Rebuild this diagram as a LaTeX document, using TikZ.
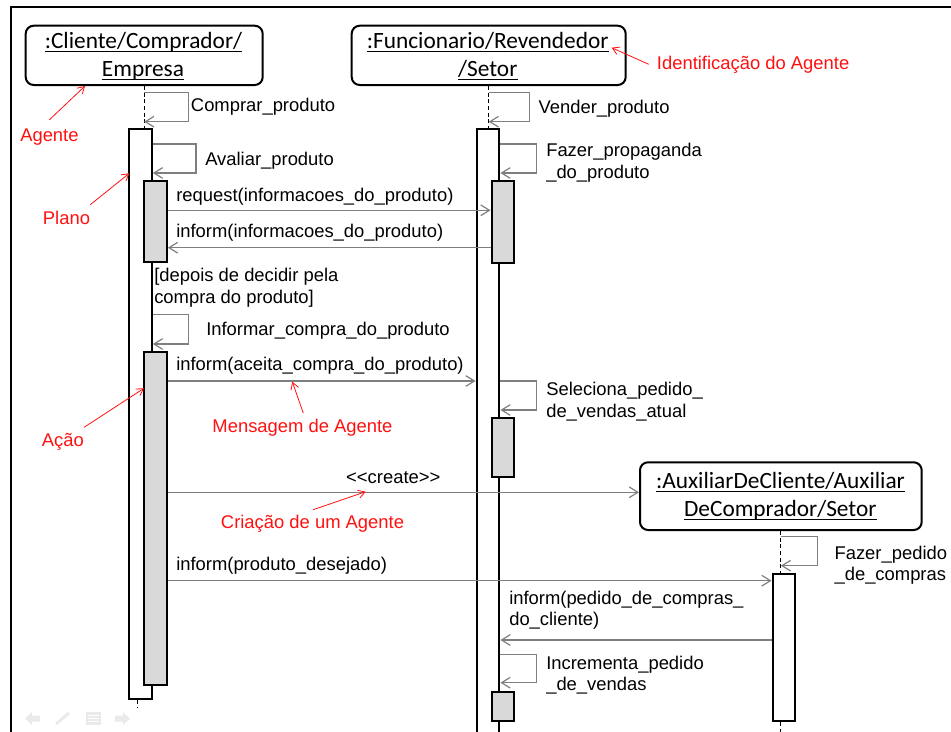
\documentclass[tikz,border=0pt]{standalone}
\usepackage{fontspec}
\setmainfont{Liberation Sans}[Ligatures=TeXOff]
\newfontfamily\boxfont{Carlito}[Ligatures=TeXOff]
\usetikzlibrary{arrows.meta,fit,calc}

\definecolor{msggray}{HTML}{7F7F7F}
\definecolor{barfill}{HTML}{D9D9D9}
\definecolor{notered}{HTML}{FF1010}
\definecolor{navgray}{HTML}{EAEAEA}

\tikzset{
  lbl/.style={inner sep=0pt, anchor=base west, font=\fontsize{13.8}{16}\selectfont},
  note/.style={lbl, text=notered},
  agentbox/.style={draw=black, line width=1.5pt, rounded corners=6pt, inner sep=0pt, fill=white},
  boxtxt/.style={inner sep=0pt, anchor=base, font=\boxfont\fontsize{17.5}{21}\selectfont},
  uline/.style={line width=0.9pt},
  life/.style={draw=black, line width=0.6pt, dash pattern=on 3pt off 2pt},
  plainbar/.style={draw=black, fill=white, line width=1.7pt, inner sep=0pt},
  graybar/.style={plainbar, fill=barfill},
  msg/.style={draw=msggray, line width=0.9pt, -{Straight Barb[length=6.5pt,width=8pt]}},
  pointer/.style={draw=notered, line width=0.6pt, -{Straight Barb[length=5pt,width=6pt]}},
}

\begin{document}
\begin{tikzpicture}[x=0.75pt,y=-0.75pt]
\useasboundingbox (0,0) rectangle (951,732);
\clip (0,0) rectangle (951,732);

% outer frame
\draw[line width=1.3pt] (11,740) -- (11,7) -- (960,7);

% slide navigation icons
\fill[navgray] (25,718.5) -- (32,712) -- (32,715.5) -- (40,715.5) -- (40,721.5) -- (32,721.5) -- (32,725) -- cycle;
\draw[navgray, line width=2.2pt] (56,724) -- (69,713);
\fill[navgray] (86,712) rectangle (101,725);
\draw[white, line width=0.6pt] (88,715.5) -- (99,715.5) (88,718.5) -- (99,718.5) (88,721.5) -- (99,721.5);
\fill[navgray] (130,718.5) -- (123,712) -- (123,715.5) -- (115,715.5) -- (115,721.5) -- (123,721.5) -- (123,725) -- cycle;

% agent boxes
\node[agentbox, fit={(25.7,25.7) (262.7,85)}] (c1) {};
\node[agentbox, fit={(351.7,25.7) (625.7,85)}] (c2) {};
\node[agentbox, fit={(640,462.3) (921.7,530)}] (c3) {};

\node[boxtxt] (c1a) at (143.5,48.3) {:Cliente/Comprador/};
\node[boxtxt] (c1b) at (143,76.7) {Empresa};
\node[boxtxt] (c2a) at (487.7,48.3) {:Funcionario/Revendedor};
\node[boxtxt] (c2b) at (487.8,76.7) {/Setor};
\node[boxtxt] (c3a) at (780.5,488.3) {:AuxiliarDeCliente/Auxiliar};
\node[boxtxt] (c3b) at (780.3,516.7) {DeComprador/Setor};
\foreach \t in {c1a,c1b,c2a,c2b,c3a,c3b}
  \draw[uline] ($(\t.base west)+(0,3)$) -- ($(\t.base east)+(0,3)$);

% activation bars
\node[plainbar, fit={(129.3,129.3) (151.7,699.3)}] (b1) {};
\node[plainbar, fit={(476.7,129.3) (499.3,760)}] (b2) {};
\node[plainbar, fit={(772.7,574) (795,720.7)}] (b3) {};

% lifelines
\draw[life] (c1.south) -- (c1.south |- b1.north);
\draw[life] (c2.south) -- (c2.south |- b2.north);
\draw[life] (c3.south) -- (c3.south |- b3.north);
\draw[life] (b3.south -| c3.south) -- ++(0,20);
\draw[life] ($(b1.south)+(-3,0)$) -- ++(0,7);

% nested (action) bars
\node[graybar, fit={(144.3,181) (166.7,261.7)}] (g1a) {};
\node[graybar, fit={(144.3,351.7) (166.7,685)}] (g1b) {};
\node[graybar, fit={(491.7,181) (514.3,262.7)}] (g2a) {};
\node[graybar, fit={(491.7,418.3) (514.3,477.3)}] (g2b) {};
\node[graybar, fit={(491.7,691.7) (514.3,720.7)}] (g2c) {};

% message levels
\coordinate (m1) at (0,210.3);
\coordinate (m2) at (0,247.7);
\coordinate (m3) at (0,381);
\coordinate (m4) at (0,492.3);
\coordinate (m5) at (0,580.7);
\coordinate (m6) at (0,640);

% messages between agents
\draw[msg] (g1a.east |- m1) -- (g2a.west |- m1);
\draw[msg] (g2a.west |- m2) -- (g1a.east |- m2);
\draw[msg] (g1b.east |- m3) -- (b2.west |- m3);
\draw[msg] (g1b.east |- m4) -- (c3.west |- m4);
\draw[msg] (g1b.east |- m5) -- (b3.west |- m5);
\draw[msg] (b3.west |- m6) -- (b2.east |- m6);

% self messages (plans and actions)
\coordinate (l1t) at (188.7,92.3);  \coordinate (l1b) at (188.7,121.7);
\coordinate (l2t) at (196,144);     \coordinate (l2b) at (196,173);
\coordinate (l3t) at (188.7,314.3); \coordinate (l3b) at (188.7,344);
\coordinate (l4t) at (529.3,92.3);  \coordinate (l4b) at (529.3,121.7);
\coordinate (l5t) at (536.7,144);   \coordinate (l5b) at (536.7,173);
\coordinate (l6t) at (536.7,381);   \coordinate (l6b) at (536.7,410);
\coordinate (l7t) at (536.7,654.3); \coordinate (l7b) at (536.7,682.7);
\coordinate (l8t) at (817.3,536.7); \coordinate (l8b) at (817.3,565.7);

\draw[msg] (c1.south |- l1t) -- (l1t) -- (l1b) -- (c1.south |- l1b);
\draw[msg] (b1.east |- l2t) -- (l2t) -- (l2b) -- (b1.east |- l2b);
\draw[msg] (b1.east |- l3t) -- (l3t) -- (l3b) -- (b1.east |- l3b);
\draw[msg] (c2.south |- l4t) -- (l4t) -- (l4b) -- (c2.south |- l4b);
\draw[msg] (b2.east |- l5t) -- (l5t) -- (l5b) -- (b2.east |- l5b);
\draw[msg] (b2.east |- l6t) -- (l6t) -- (l6b) -- (b2.east |- l6b);
\draw[msg] (b2.east |- l7t) -- (l7t) -- (l7b) -- (b2.east |- l7b);
\draw[msg] (c3.south |- l8t) -- (l8t) -- (l8b) -- (c3.south |- l8b);

% labels
\node[lbl] (t1)  at (190.7,111)   {Comprar\_produto};
\node[lbl] (t2)  at (205,165.7)   {Avaliar\_produto};
\node[lbl] (t3)  at (176,201)     {request(informacoes\_do\_produto)};
\node[lbl] (t4)  at (176,237.7)   {inform(informacoes\_do\_produto)};
\node[lbl] (t5a) at (154,281.7)   {[depois de decidir pela};
\node[lbl] (t5b) at (154,303.3)   {compra do produto]};
\node[lbl] (t6)  at (206,335.7)   {Informar\_compra\_do\_produto};
\node[lbl] (t7)  at (176,370)     {inform(aceita\_compra\_do\_produto)};
\node[lbl, anchor=base] (t8) at (393.3,483.3) {<<create>>};
\node[lbl] (t9)  at (176,570.7)   {inform(produto\_desejado)};
\node[lbl] (t10) at (538.3,113.3) {Vender\_produto};
\node[lbl] (t11a) at (546,156.7)  {Fazer\_propaganda};
\node[lbl] (t11b) at (546,178.3)  {\_do\_produto};
\node[lbl] (t12a) at (546,395.7)  {Seleciona\_pedido\_};
\node[lbl] (t12b) at (546,417.3)  {de\_vendas\_atual};
\node[lbl] (t13a) at (834.3,559)  {Fazer\_pedido};
\node[lbl] (t13b) at (834.3,580)  {\_de\_compras};
\node[lbl] (t14a) at (509,604)    {inform(pedido\_de\_compras\_};
\node[lbl] (t14b) at (509,625.7)  {do\_cliente)};
\node[lbl] (t15a) at (546,669)    {Incrementa\_pedido};
\node[lbl] (t15b) at (546,690.7)  {\_de\_vendas};

% annotations
\node[note] (nId)  at (656.7,69)   {Identificação do Agente};
\node[note] (nAg)  at (20,141.7)   {Agente};
\node[note] (nPl)  at (42.7,224.3) {Plano};
\node[note] (nAc)  at (41.7,446.7) {Ação};
\node[note, anchor=base] (nMs) at (302.5,432.7) {Mensagem de Agente};
\node[note] (nCr)  at (220.7,528.3) {Criação de um Agente};

\coordinate (pId) at (611.7,47.7);
\coordinate (pAg) at (85,86);
\coordinate (pPl) at (129.3,173.3);
\coordinate (pAc) at (144,388.3);
\coordinate (pMs) at (292.3,381.7);
\coordinate (pCr) at (365.7,491.7);

\draw[pointer] ($(nId.west)+(-8,0)$) -- (pId);
\draw[pointer] ($(nAg.north)+(0,-9)$) -- (pAg);
\draw[pointer] ($(nPl.north east)+(0,-6)$) -- (pPl);
\draw[pointer] ($(nAc.north east)+(0,-6)$) -- (pAc);
\draw[pointer] ($(nMs.north)+(0.8,-6)$) -- (pMs);
\draw[pointer] ($(nCr.north)+(0.6,-5)$) -- (pCr);
\end{tikzpicture}
\end{document}
